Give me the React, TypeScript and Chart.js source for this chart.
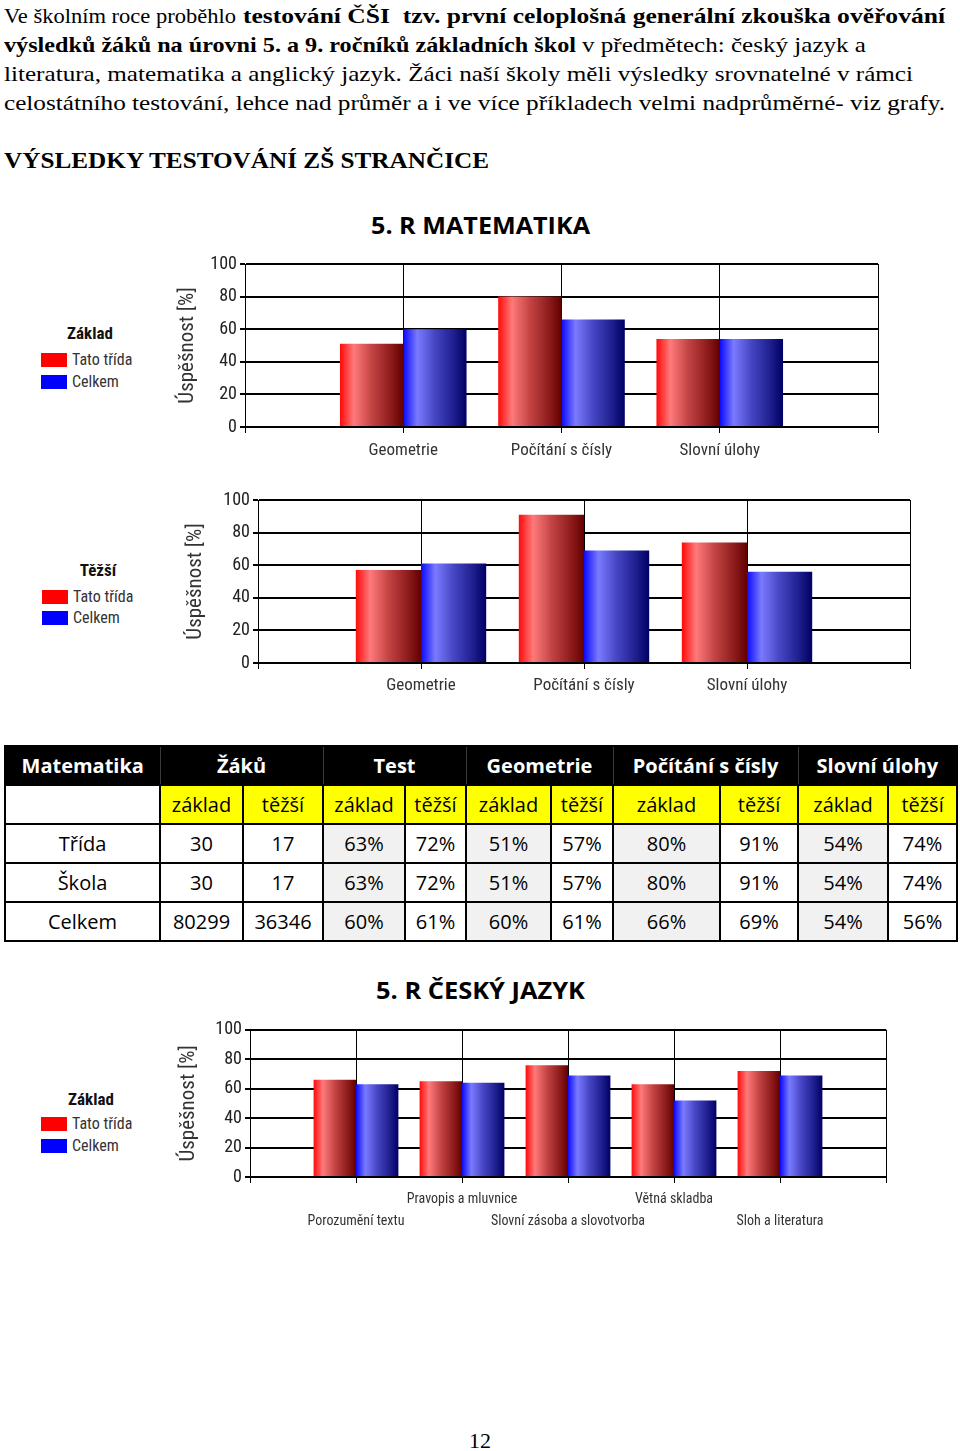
import React, { useEffect, useLayoutEffect, useRef } from "react";
import { Chart, registerables } from "chart.js";

Chart.register(...registerables);

// ---------- data ----------
const mathCategories = ["Geometrie", "Počítání s čísly", "Slovní úlohy"];
const mathBasicClass = [51, 80, 54];
const mathBasicTotal = [60, 66, 54];
const mathHardClass = [57, 91, 74];
const mathHardTotal = [61, 69, 56];

const czechCategories = [
  "Porozumění textu",
  "Pravopis a mluvnice",
  "Slovní zásoba a slovotvorba",
  "Větná skladba",
  "Sloh a literatura",
];
const czechBasicClass = [66, 65, 76, 63, 72];
const czechBasicTotal = [63, 64, 69, 52, 69];

const yTicks = [0, 20, 40, 60, 80, 100];
const seriesNames = ["Tato třída", "Celkem"];
const yTitle = "Úspěšnost [%]";

const tableCorner = "Matematika";
const tableGroups = ["Žáků", "Test", "Geometrie", "Počítání s čísly", "Slovní úlohy"];
const tableSub = ["základ", "těžší"];
const tableRowNames = ["Třída", "Škola", "Celkem"];
const rowTrida = ["30", "17", "63%", "72%", "51%", "57%", "80%", "91%", "54%", "74%"];
const rowSkola = ["30", "17", "63%", "72%", "51%", "57%", "80%", "91%", "54%", "74%"];
const rowCelkem = ["80299", "36346", "60%", "61%", "60%", "61%", "66%", "69%", "54%", "56%"];

// ---------- styling ----------
const SERIF = "'Liberation Serif', 'Times New Roman', serif";
const NARROW = "'Roboto Condensed', 'Liberation Sans Narrow', sans-serif";
const SANS = "'Open Sans', 'Noto Sans', sans-serif";

const RED_STOPS: [number, string][] = [
  [0, "#ff0a0a"],
  [0.22, "#ff7a7a"],
  [0.5, "#c44444"],
  [0.8, "#8e1c1c"],
  [1, "#640000"],
];
const BLUE_STOPS: [number, string][] = [
  [0, "#0a0aff"],
  [0.22, "#7a7aff"],
  [0.5, "#4646c4"],
  [0.8, "#1e1e8e"],
  [1, "#000064"],
];

const gradientPlugin = {
  id: "barGradient",
  beforeDatasetsDraw(chart: any) {
    const ctx = chart.ctx;
    chart.data.datasets.forEach((_ds: any, di: number) => {
      const meta = chart.getDatasetMeta(di);
      const stops = di === 0 ? RED_STOPS : BLUE_STOPS;
      meta.data.forEach((el: any) => {
        if (!el || !isFinite(el.x) || !isFinite(el.width)) return;
        const x0 = el.x - el.width / 2;
        const x1 = el.x + el.width / 2;
        const g = ctx.createLinearGradient(x0, 0, x1, 0);
        stops.forEach(([o, c]) => g.addColorStop(o, c));
        el.options.backgroundColor = g;
      });
    });
  },
};

type BarProps = {
  left: number;
  top: number;
  width: number;
  height: number;
  labels: (string | string[])[];
  red: number[];
  blue: number[];
  padTop: number;
  padRight: number;
  yWidth: number;
  xHeight: number;
  xFont: number;
  xLineHeight: number;
  xPad: number;
  titlePad: number;
};

function BarChart(p: BarProps) {
  const ref = useRef<HTMLCanvasElement>(null);
  useEffect(() => {
    const chart = new Chart(ref.current as HTMLCanvasElement, {
      type: "bar",
      data: {
        labels: ["", ...p.labels, ""] as any,
        datasets: [
          {
            label: seriesNames[0],
            data: [null, ...p.red, null] as any,
            backgroundColor: () => "#ff0000",
            borderWidth: 0,
          },
          {
            label: seriesNames[1],
            data: [null, ...p.blue, null] as any,
            backgroundColor: () => "#0000ff",
            borderWidth: 0,
          },
        ],
      },
      options: {
        animation: false,
        responsive: false,
        devicePixelRatio: 1,
        events: [],
        layout: { padding: { top: p.padTop, right: p.padRight, left: 0, bottom: 0 } },
        datasets: { bar: { categoryPercentage: 0.8, barPercentage: 1 } },
        plugins: { legend: { display: false }, tooltip: { enabled: false }, title: { display: false } },
        scales: {
          x: {
            type: "category",
            offset: false,
            grid: { offset: false, color: "#000", lineWidth: 1, tickLength: 6, drawTicks: true },
            border: { display: true, color: "#000", width: 2 },
            ticks: {
              autoSkip: false,
              maxRotation: 0,
              minRotation: 0,
              padding: p.xPad,
              color: "#333",
              font: { family: NARROW, size: p.xFont, lineHeight: p.xLineHeight },
            },
            afterFit: (s: any) => {
              s.height = p.xHeight;
            },
          },
          y: {
            min: 0,
            max: 100,
            grid: { color: "#000", lineWidth: 2, tickLength: 5 },
            border: { display: true, color: "#000", width: 1 },
            ticks: {
              padding: 3,
              color: "#222",
              font: { family: NARROW, size: 18 },
            },
            afterBuildTicks: (s: any) => {
              s.ticks = yTicks.map((v) => ({ value: v }));
            },
            title: {
              display: true,
              text: yTitle,
              color: "#333",
              font: { family: NARROW, size: 21, lineHeight: 1.2 },
              padding: { top: p.titlePad, bottom: 0 },
            },
            afterFit: (s: any) => {
              s.width = p.yWidth;
            },
          },
        },
      } as any,
      plugins: [gradientPlugin],
    });
    return () => chart.destroy();
  }, []);
  return (
    <canvas
      ref={ref}
      width={p.width}
      height={p.height}
      style={{ position: "absolute", left: p.left, top: p.top, width: p.width, height: p.height }}
    />
  );
}

function FitLine(props: {
  left: number;
  top: number;
  width: number;
  size: number;
  family: string;
  weight?: string;
  children: React.ReactNode;
}) {
  const ref = useRef<HTMLDivElement>(null);
  useLayoutEffect(() => {
    const el = ref.current;
    if (!el) return;
    el.style.transform = "none";
    const w = el.getBoundingClientRect().width;
    if (w > 0) el.style.transform = `scaleX(${props.width / w})`;
  }, []);
  return (
    <div
      ref={ref}
      style={{
        position: "absolute",
        left: props.left,
        top: props.top,
        whiteSpace: "pre",
        fontSize: props.size,
        lineHeight: `${props.size}px`,
        fontFamily: props.family,
        fontWeight: (props.weight as any) || "normal",
        transformOrigin: "left top",
        color: "#000",
      }}
    >
      {props.children}
    </div>
  );
}

function Legend(props: { cx: number; titleY: number; title: string; swX: number; redY: number; blueY: number }) {
  const sw = (y: number, color: string, text: string) => (
    <>
      <div style={{ position: "absolute", left: props.swX, top: y, width: 26, height: 14, background: color }} />
      <div
        style={{
          position: "absolute",
          left: props.swX + 31,
          top: y - 3,
          fontFamily: NARROW,
          fontSize: 16,
          lineHeight: "20px",
          color: "#333",
          whiteSpace: "nowrap",
        }}
      >
        {text}
      </div>
    </>
  );
  return (
    <>
      <div
        style={{
          position: "absolute",
          left: props.cx - 50,
          width: 100,
          top: props.titleY - 10,
          textAlign: "center",
          fontFamily: NARROW,
          fontWeight: "bold",
          fontSize: 17,
          lineHeight: "20px",
          color: "#111",
        }}
      >
        {props.title}
      </div>
      {sw(props.redY, "#ff0000", seriesNames[0])}
      {sw(props.blueY, "#0000ff", seriesNames[1])}
    </>
  );
}

const colWidths = [155, 83, 80, 82, 61, 85, 62, 107, 78, 90, 69];

function DataTable() {
  const B = "2px solid #000";
  const base: React.CSSProperties = { border: B, padding: 0, textAlign: "center", verticalAlign: "middle" };
  const rows = [rowTrida, rowSkola, rowCelkem];
  return (
    <table
      style={{
        position: "absolute",
        left: 4,
        top: 745,
        width: 952,
        height: 195,
        borderCollapse: "collapse",
        tableLayout: "fixed",
        fontFamily: SANS,
        fontSize: 20,
        color: "#000",
      }}
    >
      <colgroup>
        {colWidths.map((w, i) => (
          <col key={i} style={{ width: w }} />
        ))}
      </colgroup>
      <tbody>
        <tr style={{ height: 39, background: "#000", color: "#fff", fontWeight: "bold" }}>
          <td style={{ ...base, borderRight: "1px solid #3a3a3a" }}>{tableCorner}</td>
          {tableGroups.map((g, i) => (
            <td
              key={g}
              colSpan={2}
              style={{ ...base, borderLeft: "1px solid #3a3a3a", borderRight: i === tableGroups.length - 1 ? B : "1px solid #3a3a3a" }}
            >
              {g}
            </td>
          ))}
        </tr>
        <tr style={{ height: 39 }}>
          <td style={{ ...base, background: "#fff" }} />
          {tableGroups.map((g) =>
            tableSub.map((s) => (
              <td key={g + s} style={{ ...base, background: "#ffff00" }}>
                {s}
              </td>
            ))
          )}
        </tr>
        {rows.map((r, ri) => (
          <tr key={ri} style={{ height: 39 }}>
            <td style={{ ...base, background: "#fff" }}>{tableRowNames[ri]}</td>
            {r.map((v, ci) => (
              <td key={ci} style={{ ...base, background: ci >= 2 && ci % 2 === 0 ? "#f1f1f1" : "#fff" }}>
                {v}
              </td>
            ))}
          </tr>
        ))}
      </tbody>
    </table>
  );
}

export default function App() {
  const czechLabels = czechCategories.map((c, i) => (i % 2 === 0 ? ["", c] : [c, ""]));
  return (
    <div
      style={{
        position: "absolute",
        left: 0,
        top: 0,
        width: 960,
        height: 1451,
        background: "#fff",
        overflow: "hidden",
      }}
    >
      <FitLine left={4} top={6} width={232} size={21} family={SERIF}>
        {"Ve školním roce proběhlo"}
      </FitLine>
      <FitLine left={243} top={6} width={702} size={21} family={SERIF} weight="bold">
        {"testování ČŠI  tzv. první celoplošná generální zkouška ověřování"}
      </FitLine>
      <FitLine left={4} top={35} width={572} size={21} family={SERIF} weight="bold">
        {"výsledků žáků na úrovni 5. a 9. ročníků základních škol"}
      </FitLine>
      <FitLine left={582} top={35} width={284} size={21} family={SERIF}>
        {"v předmětech: český jazyk a"}
      </FitLine>
      <FitLine left={4} top={64} width={909} size={21} family={SERIF}>
        {"literatura, matematika a anglický jazyk. Žáci naší školy měli výsledky srovnatelné v rámci"}
      </FitLine>
      <FitLine left={4} top={93} width={941} size={21} family={SERIF}>
        {"celostátního testování, lehce nad průměr a i ve více příkladech velmi nadprůměrné- viz grafy."}
      </FitLine>
      <FitLine left={4} top={149} width={485} size={23} family={SERIF} weight="bold">
        {"VÝSLEDKY TESTOVÁNÍ ZŠ STRANČICE"}
      </FitLine>

      <FitLine left={371} top={213} width={219} size={24} family={SANS} weight="bold">
        {"5. R MATEMATIKA"}
      </FitLine>

      <Legend cx={90} titleY={333} title="Základ" swX={41} redY={353} blueY={375} />
      <BarChart
        left={170}
        top={250}
        width={720}
        height={220}
        labels={mathCategories}
        red={mathBasicClass}
        blue={mathBasicTotal}
        padTop={14}
        padRight={12}
        yWidth={75}
        xHeight={43}
        xFont={17}
        xLineHeight={1.2}
        xPad={8}
        titlePad={5}
      />

      <Legend cx={98} titleY={570} title="Těžší" swX={42} redY={590} blueY={611} />
      <BarChart
        left={183}
        top={486}
        width={739}
        height={220}
        labels={mathCategories}
        red={mathHardClass}
        blue={mathHardTotal}
        padTop={14}
        padRight={12}
        yWidth={75}
        xHeight={43}
        xFont={17}
        xLineHeight={1.2}
        xPad={7}
        titlePad={0.5}
      />

      <DataTable />

      <FitLine left={376} top={978} width={209} size={24} family={SANS} weight="bold">
        {"5. R ČESKÝ JAZYK"}
      </FitLine>

      <Legend cx={91} titleY={1099} title="Základ" swX={41} redY={1117} blueY={1139} />
      <BarChart
        left={175}
        top={1016}
        width={723}
        height={224}
        labels={czechLabels}
        red={czechBasicClass}
        blue={czechBasicTotal}
        padTop={13.5}
        padRight={12}
        yWidth={75}
        xHeight={63}
        xFont={14}
        xLineHeight={1.55}
        xPad={6}
        titlePad={1.4}
      />

      <FitLine left={469} top={1430} width={22} size={22} family={SERIF}>
        {"12"}
      </FitLine>
    </div>
  );
}
